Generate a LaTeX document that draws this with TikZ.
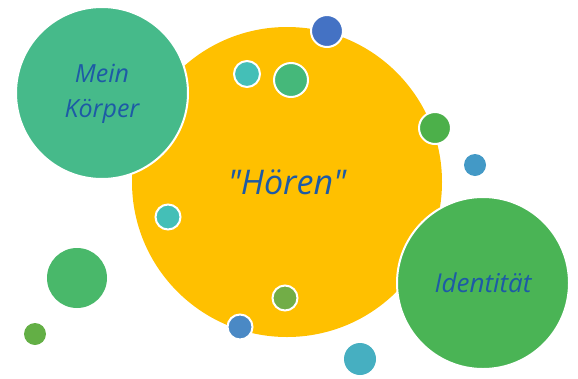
\documentclass[tikz,border=0pt]{standalone}
\usepackage{fontspec}
\setmainfont{Open Sans}
\usepackage{tikz}
\definecolor{gelb}{HTML}{FFC000}
\definecolor{tuerkisgruen}{HTML}{46BA8A}
\definecolor{gruen}{HTML}{4AB455}
\definecolor{blau}{HTML}{4472C4}
\definecolor{mblau}{HTML}{4A89C5}
\definecolor{hblau}{HTML}{4399C6}
\definecolor{teal}{HTML}{44BFB7}
\definecolor{cyan2}{HTML}{46AFC1}
\definecolor{mgruen}{HTML}{45B87A}
\definecolor{lgruen}{HTML}{4CB04A}
\definecolor{oliv}{HTML}{72AD47}
\definecolor{kgruen}{HTML}{63AF45}
\definecolor{dgruen}{HTML}{49B86A}
\definecolor{schrift}{HTML}{1D5AA6}

\begin{document}
\begin{tikzpicture}[x=1pt,y=-1pt,
  blase/.style={circle, inner sep=0pt, minimum size=#1pt},
  rand/.style={draw=white, line width=2pt},
  beschr/.style={text=schrift, align=center}]
\useasboundingbox (0,0) rectangle (578,378);
\node[blase=310, fill=gelb] (hoeren) at (287,182) {};
\node[blase=172, fill=tuerkisgruen, rand] (koerper) at (102,93) {};
\node[blase=172, fill=gruen, rand] (identitaet) at (483,283) {};
\node[blase=32, fill=blau, rand] (B1) at (327,31) {};
\node[blase=26, fill=teal, rand] (B2) at (247,74) {};
\node[blase=34, fill=mgruen, rand] (B3) at (291,80) {};
\node[blase=32, fill=lgruen, rand] (B4) at (435,128) {};
\node[blase=22, fill=hblau] (B5) at (475,165) {};
\node[blase=25, fill=teal, rand] (B6) at (168,217) {};
\node[blase=60, fill=dgruen] (B7) at (77,278) {};
\node[blase=22, fill=kgruen] (B8) at (35,334) {};
\node[blase=25, fill=oliv, rand] (B9) at (285,298) {};
\node[blase=25, fill=mblau, rand] (B10) at (240,327) {};
\node[blase=32, fill=cyan2] (B11) at (360,359) {};
\node[beschr, font=\itshape\fontsize{25}{35}\selectfont] (T1) at (102,94) {Mein\\Körper};
\node[beschr, font=\itshape\fontsize{34}{36}\selectfont] (T2) at (hoeren) {\textquotedbl Hören\textquotedbl};
\node[beschr, font=\itshape\fontsize{26}{26}\selectfont] (T3) at (identitaet) {Identität};
\end{tikzpicture}
\end{document}
